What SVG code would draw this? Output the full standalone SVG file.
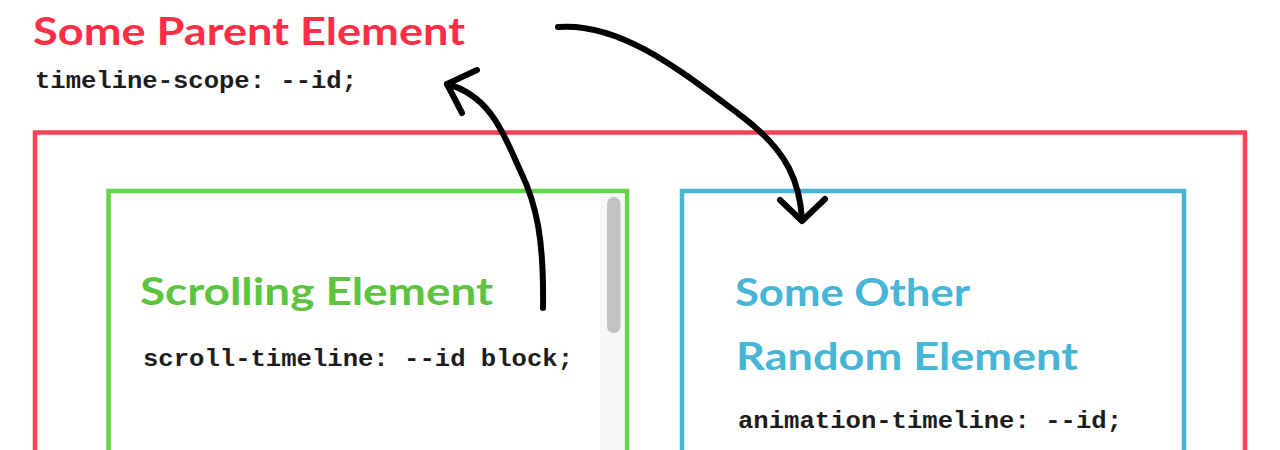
<svg xmlns="http://www.w3.org/2000/svg" width="1280" height="450" viewBox="0 0 1280 450">
  <style>
    .title { font-family: "Lato", "Open Sans", sans-serif; font-weight: 700; font-size: 38px; }
    .code { font-family: "Liberation Mono", "DejaVu Sans Mono", monospace; font-weight: 700; font-size: 23px; fill: #1c1c1c; }
    .box { fill: none; stroke-width: 4.5; }
    .arrow { fill: none; stroke: #000; stroke-width: 6; stroke-linecap: round; stroke-linejoin: round; }
  </style>
  <rect width="1280" height="450" fill="#ffffff"/>

  <g id="parent">
    <text class="title" x="33" y="45" fill="#ff2e47" textLength="432" lengthAdjust="spacingAndGlyphs">Some Parent Element</text>
    <text class="code" x="35" y="88" textLength="322" lengthAdjust="spacingAndGlyphs">timeline-scope: --id;</text>
    <rect class="box" x="35" y="132.5" width="1210" height="340" stroke="#ff4157"/>
  </g>

  <g id="scrolling">
    <rect class="box" x="108.5" y="191" width="518.5" height="300" stroke="#5fd645"/>
    <rect x="600" y="193.5" width="24.5" height="270" fill="#f6f6f6"/>
    <rect x="607" y="197" width="13.5" height="136" rx="6.7" fill="#c2c2c2"/>
    <text class="title" x="140" y="305" fill="#5cc43f" textLength="353" lengthAdjust="spacingAndGlyphs">Scrolling Element</text>
    <text class="code" x="143" y="366" textLength="430" lengthAdjust="spacingAndGlyphs">scroll-timeline: --id block;</text>
  </g>

  <g id="other">
    <rect class="box" x="682" y="191" width="502" height="300" stroke="#48b4d4"/>
    <text class="title" x="735" y="306" fill="#46b5d6" textLength="235" lengthAdjust="spacingAndGlyphs">Some Other</text>
    <text class="title" x="736" y="370" fill="#46b5d6" textLength="342" lengthAdjust="spacingAndGlyphs">Random Element</text>
    <text class="code" x="738" y="428" textLength="384" lengthAdjust="spacingAndGlyphs">animation-timeline: --id;</text>
  </g>

  <g id="connectors">
    <path class="arrow" d="M543,308 C544,240 537,205 520,170 C505,138 492,96 447,84"/>
    <path class="arrow" d="M477,70 L447,84 L462,113"/>
    <path class="arrow" d="M558,27 C620,22 680,70 740,115 C790,152 800,185 802,220"/>
    <path class="arrow" d="M780,200 L802,221 L825,199"/>
  </g>
</svg>
